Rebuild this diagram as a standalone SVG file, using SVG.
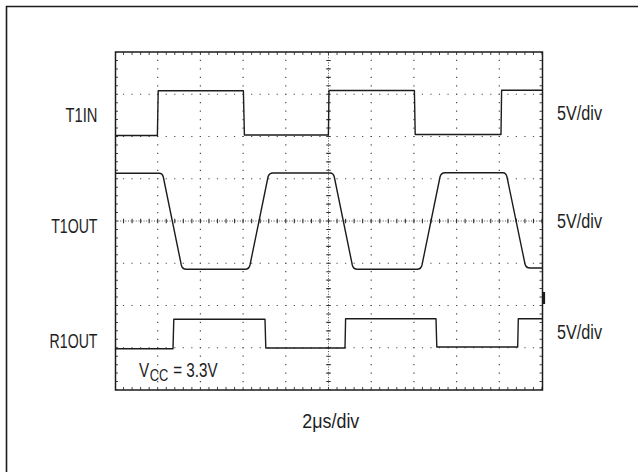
<svg xmlns="http://www.w3.org/2000/svg" width="638" height="472" viewBox="0 0 638 472">
  <style>
    .lbl { font-family: "Liberation Sans", Arial, sans-serif; font-size: 19.5px; fill: #1e1e1e; }
    .sub { font-size: 16.5px; }
    .grid { stroke: #4a4a4a; stroke-width: 1.2; fill: none; }
    .trace { stroke: #1c1c1c; stroke-width: 1.4; fill: none; stroke-linejoin: round; }
    .frame { stroke: #1c1c1c; fill: none; }
  </style>
  <rect width="638" height="472" fill="#ffffff"/>

  <!-- outer frame (top and left edges visible) -->
  <g id="outer-frame">
    <path class="frame" d="M6.5,472 V6.5 H638" stroke-width="1.6"/>
  </g>

  <!-- graticule -->
  <g id="graticule">
    <!-- horizontal dotted gridlines -->
    <g class="grid" stroke-dasharray="1.2 7.34" stroke-dashoffset="0.6">
      <line x1="115" y1="94.25" x2="542" y2="94.25"/>
      <line x1="115" y1="136.5" x2="542" y2="136.5"/>
      <line x1="115" y1="178.75" x2="542" y2="178.75"/>
      <line x1="115" y1="263.25" x2="542" y2="263.25"/>
      <line x1="115" y1="305.5" x2="542" y2="305.5"/>
      <line x1="115" y1="347.75" x2="542" y2="347.75"/>
    </g>
    <!-- vertical dotted gridlines -->
    <g class="grid" stroke-dasharray="1.2 7.25" stroke-dashoffset="0.6">
      <line x1="157.7" y1="52" x2="157.7" y2="390"/>
      <line x1="200.4" y1="52" x2="200.4" y2="390"/>
      <line x1="243.1" y1="52" x2="243.1" y2="390"/>
      <line x1="285.8" y1="52" x2="285.8" y2="390"/>
      <line x1="371.2" y1="52" x2="371.2" y2="390"/>
      <line x1="413.9" y1="52" x2="413.9" y2="390"/>
      <line x1="456.6" y1="52" x2="456.6" y2="390"/>
      <line x1="499.3" y1="52" x2="499.3" y2="390"/>
    </g>
    <!-- centre axes: fine dotted line with tick marks -->
    <line x1="115" y1="221" x2="542" y2="221" stroke="#555" stroke-width="1" stroke-dasharray="1 1.6"/>
    <line x1="328.5" y1="52" x2="328.5" y2="390" stroke="#555" stroke-width="1" stroke-dasharray="1 1.6"/>
    <line x1="115" y1="221" x2="542" y2="221" stroke="#333" stroke-width="4.5" stroke-dasharray="1.1 7.44" stroke-dashoffset="0.55"/>
    <line x1="328.5" y1="52" x2="328.5" y2="390" stroke="#333" stroke-width="4.5" stroke-dasharray="1.1 7.35" stroke-dashoffset="0.55"/>
    <!-- edge minor ticks -->
    <g stroke="#444" stroke-width="3" stroke-dasharray="1 7.54" stroke-dashoffset="0.5" fill="none">
      <line x1="115" y1="53.5" x2="542" y2="53.5"/>
      <line x1="115" y1="388.5" x2="542" y2="388.5"/>
    </g>
    <g stroke="#444" stroke-width="3" stroke-dasharray="1 7.45" stroke-dashoffset="0.5" fill="none">
      <line x1="116.5" y1="52" x2="116.5" y2="390"/>
      <line x1="541" y1="52" x2="541" y2="390"/>
    </g>
    <!-- plot border -->
    <rect class="frame" x="115.5" y="52" width="427" height="338" stroke-width="1.5"/>
    <path d="M543.8,292 V304" stroke="#1c1c1c" stroke-width="2.6"/>
  </g>

  <!-- traces -->
  <g id="trace-T1IN">
    <path class="trace" d="M115.5,135.5 H157.4 L158.2,90.7 H243.4 L244.4,135 H328.4 L329,90.5 H414.4 L415.2,134.5 H501 L501.6,90.2 H542"/>
  </g>
  <g id="trace-T1OUT">
    <path class="trace" d="M115.5,173.3 H159.3 Q162.3,173.3 163.3,177 L181.3,265 Q182.3,269.3 186.3,269.3 H245 Q249,269.3 250,265 L268,177 Q269,173 273,173 H330.3 Q333.3,173 334.3,177 L352.3,265 Q353.3,269.3 357.3,269.3 H417 Q421,269.3 422,265 L440,177 Q441,172.7 445,172.7 H503 Q506,172.7 507,177 L525,264 Q526,268 530,268 H542"/>
  </g>
  <g id="trace-R1OUT">
    <path class="trace" d="M115.5,348.7 H173 L173.8,319.3 H265 L265.8,348 H345 L345.6,318.8 H436 L436.8,347 H517.7 L518.3,318.7 H542"/>
  </g>

  <!-- labels -->
  <g id="labels">
    <text class="lbl" x="65.5" y="121.7" textLength="32" lengthAdjust="spacingAndGlyphs">T1IN</text>
    <text class="lbl" x="51.2" y="233.3" textLength="46.3" lengthAdjust="spacingAndGlyphs">T1OUT</text>
    <text class="lbl" x="49.6" y="348" textLength="47.9" lengthAdjust="spacingAndGlyphs">R1OUT</text>
    <text class="lbl" x="557" y="120" textLength="45" lengthAdjust="spacingAndGlyphs">5V/div</text>
    <text class="lbl" x="557" y="228.3" textLength="45" lengthAdjust="spacingAndGlyphs">5V/div</text>
    <text class="lbl" x="557" y="338.7" textLength="45" lengthAdjust="spacingAndGlyphs">5V/div</text>
    <text class="lbl" x="302.3" y="428.3" textLength="57" lengthAdjust="spacingAndGlyphs">2μs/div</text>
    <g transform="translate(139,377.3) scale(0.78,1)">
      <text class="lbl" x="0" y="0">V<tspan class="sub" dx="0.8" dy="3.4">CC</tspan><tspan dx="0.8" dy="-3.4"> = 3.3V</tspan></text>
    </g>
  </g>
</svg>
